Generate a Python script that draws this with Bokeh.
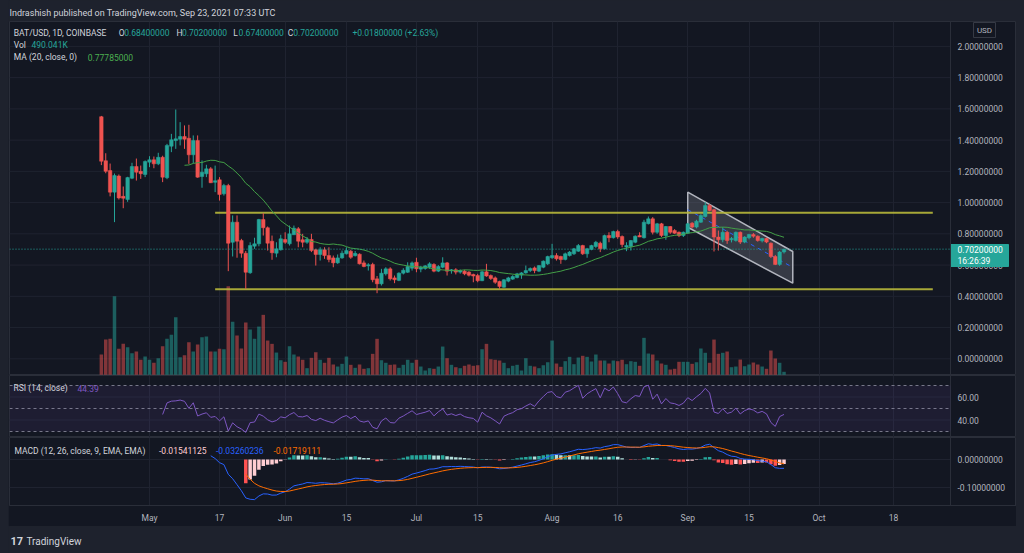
import numpy as np
import pandas as pd
from bokeh.plotting import figure
from bokeh.layouts import column
from bokeh.models import (Range1d, LinearAxis, FixedTicker, Label, Span, BoxAnnotation)
from bokeh.core.properties import value
from bokeh.embed import file_html
from bokeh.resources import INLINE

# ---------------- data ----------------
first_day = -11   # days relative to 2021-05-01 (first candle: Apr 20)

opens = [1.550, 1.268, 1.205, 1.067, 1.170, 1.040, 1.020, 1.156, 1.231, 1.200,
         1.180, 1.259, 1.274, 1.248, 1.290, 1.159, 1.361, 1.397, 1.406, 1.423,
         1.412, 1.306, 1.398, 1.167, 1.184, 1.216, 1.130, 1.146, 1.056, 1.109,
         0.746, 0.875, 0.757, 0.676, 0.551, 0.721, 0.736, 0.892, 0.839, 0.753,
         0.676, 0.698, 0.764, 0.736, 0.794, 0.832, 0.762, 0.746, 0.764, 0.698,
         0.668, 0.698, 0.661, 0.646, 0.614, 0.646, 0.672, 0.689, 0.660, 0.670,
         0.614, 0.595, 0.604, 0.512, 0.480, 0.544, 0.576, 0.518, 0.502, 0.548,
         0.554, 0.580, 0.618, 0.574, 0.578, 0.586, 0.604, 0.561, 0.586, 0.614,
         0.563, 0.570, 0.555, 0.561, 0.555, 0.540, 0.533, 0.500, 0.557, 0.533,
         0.518, 0.495, 0.458, 0.497, 0.510, 0.520, 0.536, 0.550, 0.565, 0.582,
         0.561, 0.586, 0.608, 0.647, 0.661, 0.655, 0.636, 0.661, 0.672, 0.689,
         0.725, 0.672, 0.700, 0.719, 0.740, 0.704, 0.789, 0.775, 0.815, 0.783,
         0.715, 0.719, 0.746, 0.789, 0.775, 0.865, 0.896, 0.810, 0.864, 0.789,
         0.847, 0.821, 0.810, 0.789, 0.804, 0.868, 0.843, 0.875, 0.911, 0.981,
         0.954, 0.779, 0.762, 0.810, 0.762, 0.757, 0.810, 0.747, 0.775, 0.796,
         0.785, 0.755, 0.770, 0.740, 0.655, 0.604, 0.684]
highs = [1.555, 1.316, 1.250, 1.186, 1.180, 1.103, 1.165, 1.255, 1.282, 1.237,
         1.270, 1.297, 1.295, 1.319, 1.300, 1.376, 1.440, 1.596, 1.515, 1.494,
         1.498, 1.430, 1.430, 1.270, 1.242, 1.227, 1.237, 1.163, 1.120, 1.120,
         0.918, 0.918, 0.768, 0.690, 0.746, 0.775, 0.896, 0.932, 0.847, 0.789,
         0.746, 0.794, 0.810, 0.853, 0.853, 0.843, 0.800, 0.779, 0.800, 0.704,
         0.714, 0.714, 0.714, 0.661, 0.668, 0.693, 0.714, 0.698, 0.690, 0.675,
         0.629, 0.612, 0.615, 0.530, 0.576, 0.586, 0.586, 0.533, 0.554, 0.580,
         0.618, 0.623, 0.647, 0.595, 0.600, 0.618, 0.612, 0.600, 0.650, 0.620,
         0.575, 0.580, 0.572, 0.570, 0.561, 0.545, 0.544, 0.565, 0.608, 0.540,
         0.527, 0.500, 0.510, 0.525, 0.535, 0.550, 0.555, 0.597, 0.585, 0.591,
         0.600, 0.630, 0.660, 0.736, 0.676, 0.660, 0.680, 0.690, 0.710, 0.735,
         0.730, 0.710, 0.730, 0.755, 0.750, 0.795, 0.810, 0.820, 0.826, 0.790,
         0.746, 0.760, 0.790, 0.810, 0.890, 0.911, 0.907, 0.870, 0.870, 0.850,
         0.850, 0.830, 0.815, 0.815, 0.870, 0.875, 0.890, 0.925, 1.003, 0.992,
         0.960, 0.821, 0.843, 0.820, 0.780, 0.815, 0.815, 0.785, 0.800, 0.805,
         0.790, 0.775, 0.775, 0.745, 0.665, 0.690, 0.702]
lows = [1.240, 1.188, 1.040, 0.875, 1.020, 0.964, 1.005, 1.150, 1.141, 1.152,
        1.163, 1.227, 1.220, 1.240, 1.131, 1.150, 1.323, 1.344, 1.366, 1.344,
        1.248, 1.252, 1.159, 1.095, 1.163, 1.125, 1.067, 1.013, 1.045, 0.561,
        0.655, 0.647, 0.647, 0.448, 0.544, 0.704, 0.720, 0.789, 0.693, 0.634,
        0.650, 0.693, 0.736, 0.725, 0.794, 0.714, 0.714, 0.736, 0.683, 0.597,
        0.629, 0.640, 0.618, 0.586, 0.608, 0.640, 0.668, 0.640, 0.655, 0.604,
        0.586, 0.565, 0.490, 0.420, 0.469, 0.533, 0.501, 0.484, 0.497, 0.540,
        0.550, 0.565, 0.554, 0.554, 0.570, 0.576, 0.554, 0.555, 0.580, 0.533,
        0.545, 0.540, 0.545, 0.535, 0.527, 0.490, 0.490, 0.497, 0.525, 0.505,
        0.480, 0.448, 0.455, 0.490, 0.505, 0.515, 0.512, 0.545, 0.555, 0.548,
        0.555, 0.580, 0.600, 0.640, 0.629, 0.608, 0.630, 0.655, 0.665, 0.685,
        0.665, 0.647, 0.695, 0.710, 0.683, 0.700, 0.746, 0.770, 0.768, 0.714,
        0.689, 0.693, 0.740, 0.779, 0.770, 0.860, 0.796, 0.800, 0.780, 0.762,
        0.800, 0.800, 0.779, 0.780, 0.800, 0.835, 0.835, 0.870, 0.905, 0.945,
        0.687, 0.693, 0.746, 0.736, 0.745, 0.750, 0.735, 0.740, 0.765, 0.775,
        0.750, 0.745, 0.740, 0.645, 0.600, 0.595, 0.674]
closes = [1.265, 1.200, 1.067, 1.173, 1.030, 1.028, 1.160, 1.231, 1.195, 1.185,
          1.263, 1.274, 1.248, 1.290, 1.163, 1.366, 1.402, 1.408, 1.423, 1.406,
          1.306, 1.398, 1.163, 1.195, 1.216, 1.127, 1.140, 1.052, 1.109, 0.740,
          0.875, 0.753, 0.676, 0.554, 0.725, 0.736, 0.892, 0.839, 0.740, 0.679,
          0.704, 0.768, 0.746, 0.800, 0.836, 0.753, 0.746, 0.766, 0.693, 0.668,
          0.698, 0.661, 0.636, 0.614, 0.646, 0.676, 0.693, 0.650, 0.675, 0.608,
          0.591, 0.602, 0.506, 0.480, 0.548, 0.576, 0.512, 0.506, 0.548, 0.567,
          0.591, 0.614, 0.576, 0.586, 0.595, 0.608, 0.561, 0.591, 0.614, 0.561,
          0.570, 0.555, 0.565, 0.544, 0.535, 0.530, 0.500, 0.557, 0.530, 0.514,
          0.490, 0.463, 0.506, 0.518, 0.527, 0.544, 0.550, 0.565, 0.578, 0.565,
          0.597, 0.625, 0.655, 0.661, 0.640, 0.635, 0.672, 0.683, 0.704, 0.725,
          0.672, 0.704, 0.725, 0.746, 0.704, 0.789, 0.775, 0.815, 0.780, 0.732,
          0.725, 0.757, 0.785, 0.780, 0.875, 0.896, 0.810, 0.864, 0.789, 0.847,
          0.810, 0.804, 0.789, 0.810, 0.864, 0.843, 0.881, 0.917, 0.981, 0.950,
          0.779, 0.762, 0.810, 0.757, 0.770, 0.810, 0.747, 0.779, 0.796, 0.785,
          0.757, 0.770, 0.747, 0.655, 0.604, 0.683, 0.702]
volumes = [3.31, 5.75, 5.87, 12.81, 4.24, 5.05, 4.50, 3.52, 3.80, 2.45,
           2.98, 2.45, 1.96, 2.72, 4.66, 5.87, 6.52, 9.39, 2.87, 3.19,
           5.31, 3.80, 4.94, 6.13, 6.24, 3.80, 3.80, 4.24, 4.17, 14.44,
           8.64, 6.41, 4.29, 8.52, 7.38, 5.87, 7.87, 9.78, 5.59, 5.05,
           3.63, 2.38, 2.12, 4.66, 3.31, 2.98, 2.45, 1.08, 2.77, 3.68,
           2.45, 1.96, 2.77, 1.68, 1.35, 1.79, 2.98, 1.63, 1.14, 1.68,
           0.98, 1.08, 3.42, 5.87, 2.38, 1.96, 1.63, 1.68, 1.14, 1.63,
           2.45, 1.96, 2.45, 1.35, 0.70, 1.08, 0.98, 1.35,
           4.61, 2.71, 1.63, 1.24, 1.08, 1.47, 1.68, 1.47, 1.56, 4.17,
           5.05, 2.54, 2.45, 2.33, 1.96, 1.08, 1.47, 1.63, 0.70, 2.71,
           1.47, 1.35, 1.08, 1.56, 2.05, 5.59, 1.84, 1.30, 2.22, 2.93,
           1.73, 2.82, 3.10, 2.93, 2.17, 3.31, 2.33, 2.33, 1.84, 2.33,
           2.22, 2.45, 1.73, 2.22, 2.12, 1.47, 6.03, 3.47, 3.31, 2.33,
           1.84, 1.63, 0.86, 0.98, 2.12, 2.12, 2.12, 1.79, 2.05, 4.29,
           3.59, 1.96, 5.75, 3.42, 3.59, 3.80, 1.24, 1.35, 2.49, 1.40,
           1.68, 2.00, 1.68, 1.35, 0.98, 3.96, 2.66, 1.96, 0.49]

tick_days = [0, 16, 31, 45, 61, 75, 92, 107, 123, 137, 153, 170]
tick_labels = ["May", "17", "Jun", "15", "Jul", "15", "Aug", "16", "Sep", "15", "Oct", "18"]
price_ticks = [0.0, 0.2, 0.4, 0.6, 0.8, 1.0, 1.2, 1.4, 1.6, 1.8, 2.0]
rsi_ticks = [40, 60]
rsi_levels = [70, 50, 30]
macd_ticks = [0.0, -0.1]

level_days = [15, 179]
resistance = 0.935
support = 0.446
channel_days = [123, 147]
channel_upper = [1.067, 0.687]
channel_lower = [0.842, 0.484]
last_price = 0.702
last_price_text = "0.70200000"
countdown_text = "16:26:39"

header_text = "Indrashish published on TradingView.com, Sep 23, 2021 07:33 UTC"
symbol_text = "BAT/USD, 1D, COINBASE"
ohlc_keys = ["O", "H", "L", "C"]
ohlc_vals = ["0.68400000", "0.70200000", "0.67400000", "0.70200000"]
change_text = "+0.01800000 (+2.63%)"
vol_text = "490.041K"
ma_text = "0.77785000"
rsi_text = "44.39"
macd_texts = ["-0.01541125", "-0.03260236", "-0.01719111"]

# ---------------- style ----------------
BG = "#131722"
OUTER = "#1e222d"
GRID = "#1f2330"
SEP = "#2a2e39"
UP = "#26a69a"
DOWN = "#ef5350"
TXT = "#d1d4dc"
AX = "#b2b5be"
FONT = "Roboto"
FS = "8.5px"
W = 1008

# pixel geometry of the reference (page pixels)
X0_PX, PX_PER_DAY = 149.0, 4.376          # May 1 position and spacing
FRAME_L_PX, FRAME_R_PX, AXIS_SEP_PX = 9, 1016, 950


def dx(X):
    return (X - X0_PX) / PX_PER_DAY


AXIS_DAY = dx(AXIS_SEP_PX)
LABEL_DAY = dx(957)

n = min(len(opens), len(highs), len(lows), len(closes), len(volumes))
o = np.array(opens[:n]); h = np.array(highs[:n]); l = np.array(lows[:n]); c = np.array(closes[:n])
v = np.array(volumes[:n])
days = np.arange(n) + first_day
up = c >= o
colors = np.where(up, UP, DOWN)

# ---------------- indicators derived from closes ----------------
ma20 = pd.Series(c).rolling(20).mean().values


def rma(vals, length):
    out = np.full(len(vals), np.nan)
    idx = np.where(~np.isnan(vals))[0]
    f = idx[0]
    s = f + length - 1
    out[s] = np.mean(vals[f:f + length])
    for i in range(s + 1, len(vals)):
        out[i] = (out[i - 1] * (length - 1) + vals[i]) / length
    return out


def ema(vals, length):
    out = np.full(len(vals), np.nan)
    idx = np.where(~np.isnan(vals))[0]
    f = idx[0]
    s = f + length - 1
    out[s] = np.mean(vals[f:f + length])
    a = 2.0 / (length + 1)
    for i in range(s + 1, len(vals)):
        out[i] = a * vals[i] + (1 - a) * out[i - 1]
    return out


delta = np.diff(c, prepend=np.nan)
gain = np.where(np.isnan(delta), np.nan, np.clip(delta, 0, None))
loss = np.where(np.isnan(delta), np.nan, np.clip(-delta, 0, None))
rsi = 100 - 100 / (1 + rma(gain, 14) / rma(loss, 14))

macd = ema(c, 12) - ema(c, 26)
signal = ema(macd, 9)
hist = macd - signal
hist_colors = []
for i in range(n):
    hv = hist[i]
    pv = hist[i - 1] if i > 0 else np.nan
    if np.isnan(hv):
        hist_colors.append(BG)
    elif hv >= 0:
        hist_colors.append("#26a69a" if (np.isnan(pv) or pv < hv) else "#b2dfdb")
    else:
        hist_colors.append("#ffcdd2" if (not np.isnan(pv) and pv < hv) else "#ff5252")
hist_plot = np.nan_to_num(hist)

x_range = Range1d(dx(FRAME_L_PX), dx(FRAME_R_PX))


def base_fig(height, y_range, bottom=0):
    f = figure(width=W, height=height, x_range=x_range, y_range=y_range,
               x_axis_location=None, y_axis_location=None, title=None,
               toolbar_location=None, output_backend="svg",
               min_border_left=FRAME_L_PX - 8, min_border_right=0,
               min_border_top=0, min_border_bottom=bottom,
               background_fill_color=BG, border_fill_color=BG,
               outline_line_color=SEP)
    f.xgrid.ticker = FixedTicker(ticks=tick_days)
    f.xgrid.grid_line_color = GRID
    f.ygrid.visible = False
    return f


def hgrid_and_axis(f, ticks, fmt):
    # horizontal grid lines stop at the price-scale separator
    f.segment(x0=[x_range.start] * len(ticks), y0=ticks, x1=[AXIS_DAY] * len(ticks), y1=ticks,
              line_color=GRID, line_width=1)
    f.add_layout(Span(location=AXIS_DAY, dimension="height", line_color=SEP, line_width=1))
    f.text(x=[LABEL_DAY] * len(ticks), y=ticks, text=[fmt % t for t in ticks],
           text_color=AX, text_font=value(FONT), text_font_size=value(FS),
           text_baseline="middle", text_align="left")


def lab(f, X, y, text, color, size=FS, bold=False, align="left"):
    f.add_layout(Label(x=dx(X), y=y, text=text, text_color=color, text_font=FONT,
                       text_font_size=size, text_align=align, text_baseline="middle",
                       text_font_style="bold" if bold else "normal"))


# ---------------- header ----------------
hdr = figure(width=W, height=21, x_range=Range1d(0, W), y_range=Range1d(0, 21),
             x_axis_location=None, y_axis_location=None, title=None,
             toolbar_location=None, output_backend="svg", min_border=0,
             background_fill_color=OUTER, border_fill_color=OUTER, outline_line_color=None)
hdr.grid.visible = False
hdr.add_layout(Label(x=0, y=21 - 12.3, text=header_text, text_color=TXT, text_font=FONT,
                     text_font_size="9px", text_baseline="middle"))

# ---------------- main price pane ----------------
MAIN_TOP, MAIN_BOT = 21, 375
PPU = 156.2
ZERO_Y = 358.3


def py(Y):
    return (ZERO_Y - Y) / PPU


p = base_fig(MAIN_BOT - MAIN_TOP, Range1d(py(MAIN_BOT), py(MAIN_TOP)))
hgrid_and_axis(p, price_ticks, "%.8f")

VOL_PX_PER_UNIT = 6.13
p.extra_y_ranges = {"vol": Range1d(-(MAIN_BOT - 374.3) / VOL_PX_PER_UNIT,
                                   (374.3 - MAIN_TOP) / VOL_PX_PER_UNIT)}
p.vbar(x=days, top=v, bottom=0, width=0.8, fill_color=colors, line_color=None,
       fill_alpha=0.5, y_range_name="vol")

# drawings: horizontal range levels and descending channel
p.patch(x=[channel_days[0], channel_days[1], channel_days[1], channel_days[0]],
        y=[channel_upper[0], channel_upper[1], channel_lower[1], channel_lower[0]],
        fill_color="#787b86", fill_alpha=0.35, line_color="#b2b5be", line_width=1.5)
p.line(x=channel_days, y=[(a + b) / 2 for a, b in zip(channel_upper, channel_lower)],
       line_color="#2962ff", line_dash="4 4", line_width=1)
for lvl in (resistance, support):
    p.line(x=level_days, y=[lvl, lvl], line_color="#b8b83a", line_width=2, line_alpha=0.9)

p.segment(x0=days, y0=h, x1=days, y1=l, line_color=colors, line_width=1)
p.vbar(x=days, top=np.maximum(o, c), bottom=np.minimum(o, c), width=0.8,
       fill_color=colors, line_color=colors, line_width=0.5)
p.line(x=days, y=ma20, line_color="#43a047", line_width=1)
p.segment(x0=[x_range.start], y0=[last_price], x1=[AXIS_DAY], y1=[last_price],
          line_color=UP, line_dash="1 2", line_width=1)

# last price tag on the price scale
p.quad(left=[AXIS_DAY], right=[dx(1008)], top=[py(244)], bottom=[py(266)],
       fill_color=UP, line_color=UP)
p.text(x=[LABEL_DAY, LABEL_DAY], y=[py(249.3), py(260)], text=[last_price_text, countdown_text],
       text_color="#ffffff", text_font=value(FONT), text_font_size=value(FS),
       text_baseline="middle", text_align="left")
# currency box
p.quad(left=[dx(973)], right=[dx(995)], top=[py(22)], bottom=[py(37)],
       fill_color=BG, line_color="#363a45")
p.text(x=[dx(984)], y=[py(30)], text=["USD"], text_color=AX, text_font=value(FONT),
       text_font_size=value("8px"), text_baseline="middle", text_align="center")

# legend
lab(p, 13.3, py(32.3), symbol_text, TXT)
for k, val, xk in zip(ohlc_keys, ohlc_vals, [118.3, 176.0, 232.7, 287.3]):
    lab(p, xk, py(32.3), k, TXT)
    lab(p, xk + 5.4, py(32.3), val, UP)
lab(p, 352, py(32.3), change_text, UP)
lab(p, 13.3, py(44.5), "Vol", TXT)
lab(p, 31, py(44.5), vol_text, UP)
lab(p, 13.3, py(56.7), "MA (20, close, 0)", TXT)
lab(p, 87.3, py(56.7), ma_text, "#4caf50")

# ---------------- RSI pane ----------------
RSI_TOP, RSI_BOT = 375, 437
RSI_PPU = 46.0 / 40.0


def ry(Y):
    return 70 - (Y - 385) / RSI_PPU


r = base_fig(RSI_BOT - RSI_TOP, Range1d(ry(RSI_BOT), ry(RSI_TOP)))
hgrid_and_axis(r, rsi_ticks, "%.2f")
r.add_layout(BoxAnnotation(bottom=30, top=70, left=x_range.start, right=AXIS_DAY,
                           fill_color="#7e57c2", fill_alpha=0.1, line_color=None))
r.segment(x0=[x_range.start] * 3, y0=rsi_levels, x1=[AXIS_DAY] * 3, y1=rsi_levels,
          line_color="#787b86", line_dash="3 3", line_width=1)
r.line(x=days, y=rsi, line_color="#7e57c2", line_width=1)
lab(r, 13, ry(387.5), "RSI (14, close)", TXT)
lab(r, 77, ry(387.5), rsi_text, "#7e57c2")

# ---------------- MACD pane + time axis ----------------
MACD_TOP, MACD_BOT = 437, 505
M_PPU = 280.0


def my(Y):
    return (459 - Y) / M_PPU


m = base_fig(MACD_BOT - MACD_TOP + 21, Range1d(my(MACD_BOT), my(MACD_TOP)), bottom=21)
hgrid_and_axis(m, macd_ticks, "%.8f")
m.vbar(x=days, top=hist_plot, bottom=0, width=0.8, fill_color=hist_colors, line_color=None)
m.line(x=days, y=macd, line_color="#2962ff", line_width=1)
m.line(x=days, y=signal, line_color="#ff6d00", line_width=1)
lab(m, 14, my(450), "MACD (12, 26, close, 9, EMA, EMA)", TXT)
for txt, xk, col in zip(macd_texts, [158.5, 215.5, 273.0], ["#ffcdd2", "#2962ff", "#ff6d00"]):
    lab(m, xk, my(450), txt, col)

xa = LinearAxis(ticker=FixedTicker(ticks=tick_days),
                major_label_overrides={d: t for d, t in zip(tick_days, tick_labels)})
xa.major_tick_line_color = None
xa.minor_tick_line_color = None
xa.major_tick_out = 0
xa.major_tick_in = 0
xa.axis_line_color = SEP
xa.major_label_text_color = AX
xa.major_label_text_font = FONT
xa.major_label_text_font_size = FS
xa.major_label_standoff = 7
m.add_layout(xa, "below")

# ---------------- footer ----------------
ftr = figure(width=W, height=27, x_range=Range1d(0, W), y_range=Range1d(0, 27),
             x_axis_location=None, y_axis_location=None, title=None,
             toolbar_location=None, output_backend="svg", min_border=0,
             background_fill_color=OUTER, border_fill_color=OUTER, outline_line_color=None)
ftr.grid.visible = False
ftr.add_layout(Label(x=1, y=27 - 14.5, text="17", text_color=TXT, text_font=FONT,
                     text_font_size="11px", text_font_style="bold", text_baseline="middle"))
ftr.add_layout(Label(x=17, y=27 - 14.5, text="TradingView", text_color=TXT, text_font=FONT,
                     text_font_size="10px", text_baseline="middle"))

layout = column(hdr, p, r, m, ftr, spacing=0)
html = file_html(layout, INLINE, title="BAT/USD")
html = html.replace("<body>", '<body style="background-color:#1e222d;margin:0;padding:0 8px;">')
open("out.html", "w").write(html)
